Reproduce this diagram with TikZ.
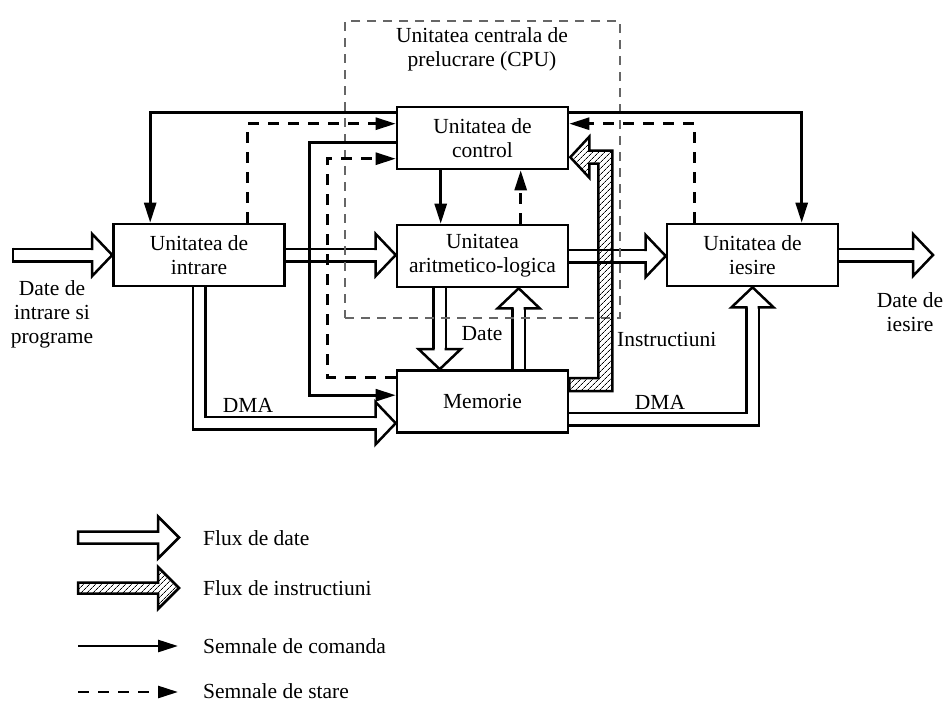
\documentclass[tikz,border=0pt]{standalone}
\usepackage{fontspec}
\setmainfont{Liberation Serif}
\usetikzlibrary{arrows.meta,calc,patterns.meta}
\pgfdeclarelayer{bg}
\pgfsetlayers{bg,main}
\begin{document}
\begin{tikzpicture}[x=1pt,y=-1pt,
  every node/.style={font=\fontsize{21.5}{24}\selectfont},
  unit/.style={draw, line width=2.6pt, minimum width=171pt, minimum height=62pt, inner sep=0pt, align=center},
  lbl/.style={align=center, inner sep=0pt},
  cmd/.style={line width=2.6pt, -{Triangle[length=20pt,width=12pt]}},
  stat/.style={cmd, dash pattern=on 11pt off 9pt},
  shaft/.style={line width=2.5pt, double=white, double distance=10pt, line join=miter, shorten >=20pt},
  hatched/.style={line width=2.5pt, line join=miter, pattern={Lines[angle=45,distance=4pt,line width=0.7pt]}},
  region/.style={draw=black!60, line width=1.2pt, dash pattern=on 9pt off 7pt},
  hollowhead/.pic={
    \fill[white] (0.5,0) -- (-20,21) -- (-20,-21) -- cycle;
    \draw[line width=2.5pt, line join=miter, line cap=rect]
      (-20,6.25) -- (-20,21) -- (0,0) -- (-20,-21) -- (-20,-6.25);
  }
]
\useasboundingbox (0,0) rectangle (946,702);

% functional units
\node[unit] (in)   at (199,255)   {Unitatea de\\intrare};
\node[unit] (ctrl) at (482.5,138) {Unitatea de\\control};
\node[unit] (alu)  at (482.5,256) {Unitatea\\aritmetico-logica};
\node[unit] (out)  at (752.5,255) {Unitatea de\\iesire};
\node[unit] (mem)  at (482.5,401.5) {Memorie};

% CPU title
\node[lbl] (cputitle) at (482,49) {Unitatea centrala de\\prelucrare (CPU)};

% external ends of the data path
\coordinate (srcin) at (13,255);
\coordinate (sinkout) at (933,255);

% labels
\node[lbl] (inlabel)  at (52,314)   {Date de\\intrare si\\programe};
\node[lbl] (outlabel) at (910,312) {Date de\\iesire};
\node[lbl] (datelbl)  at (482,334)  {Date};
\node[lbl, anchor=west] (instrlbl) at (617,339) {Instructiuni};
\node[lbl] (dmain)  at (248,405) {DMA};
\node[lbl] (dmaout) at (660,402) {DMA};

\begin{pgfonlayer}{bg}
  % data flows (hollow arrows)
  \draw[shaft] (srcin) -- (in.west);
  \draw[line width=2.5pt] ($(srcin)+(0,-7.5)$) -- ($(srcin)+(0,7.5)$);
  \draw[shaft] (in.east) -- (in.east -| alu.west);
  \draw[shaft] (alu.east) -- (alu.east -| out.west);
  \draw[shaft] (out.east) -- (sinkout);
  \draw[shaft] ($(alu.south west)+(44,0)$) -- ($(mem.north west)+(44,0)$);
  \draw[shaft] ($(mem.north west)+(123,0)$) -- ($(alu.south west)+(123,0)$);
  \draw[shaft] (in.south) |- ($(mem.north west)+(0,54)$);
  \draw[shaft] ($(mem.north east)+(0,50)$) -| (out.south);

  \pic at (in.west) {hollowhead};
  \pic at (in.east -| alu.west) {hollowhead};
  \pic at (alu.east -| out.west) {hollowhead};
  \pic at (sinkout) {hollowhead};
  \pic[rotate=-90] at ($(mem.north west)+(44,0)$) {hollowhead};
  \pic[rotate=90] at ($(alu.south west)+(123,0)$) {hollowhead};
  \pic at ($(mem.north west)+(0,54)$) {hollowhead};
  \pic[rotate=90] at (out.south) {hollowhead};

  % CPU boundary
  \node[region, minimum width=275pt, minimum height=297pt] (cpu) at (482.5,169.5) {};

  % instruction flow (hatched arrow) from memory to control
  \draw[hatched]
    ($(mem.north east)+(0,22)$) -- ($(mem.north east)+(43,22)$)
    -- ($(ctrl.north east)+(43,45)$) -- ($(ctrl.north east)+(20,45)$)
    -- ($(ctrl.north east)+(20,31)$) -- ($(ctrl.north east)+(1,51.5)$)
    -- ($(ctrl.north east)+(20,72)$) -- ($(ctrl.north east)+(20,58)$)
    -- ($(ctrl.north east)+(29,58)$) -- ($(mem.north east)+(29,9)$)
    -- ($(mem.north east)+(0,9)$) -- cycle;

  % command signals
  \draw[cmd] ($(ctrl.north west)+(0,7)$) -| ($(in.north west)+(38,0)$);
  \draw[cmd] ($(ctrl.north west)+(0,37)$) -- ++(-86,0) |- ($(mem.north west)+(0,26)$);
  \draw[cmd] ($(ctrl.south west)+(45,0)$) -- ($(alu.north west)+(45,0)$);
  \draw[cmd] ($(ctrl.north east)+(0,7)$) -| ($(out.north west)+(136,0)$);

  % status signals
  \draw[stat] ($(in.north west)+(135,0)$) |- ($(ctrl.north west)+(0,18)$);
  \draw[stat] ($(mem.north west)+(0,8)$) -- ++(-68,0) |- ($(ctrl.north west)+(0,53)$);
  \draw[stat] ($(alu.north west)+(125,0)$) -- ($(ctrl.south west)+(125,0)$);
  \draw[stat] ($(out.north west)+(29,0)$) |- ($(ctrl.north east)+(0,18)$);
\end{pgfonlayer}

% legend
\draw[line width=2.5pt, line join=miter, fill=white]
  (78,531.5) -- (158,531.5) -- (158,516.5) -- (179,537.5) -- (158,558.5)
  -- (158,543.5) -- (78,543.5) -- cycle;
\node[lbl, anchor=west] (leg1) at (203,538) {Flux de date};
\draw[hatched]
  (78,582.5) -- (158,582.5) -- (158,567) -- (179,588) -- (158,609)
  -- (158,593.5) -- (78,593.5) -- cycle;
\node[lbl, anchor=west] (leg2) at (203,588) {Flux de instructiuni};
\coordinate (c1) at (78,646);
\coordinate (c2) at (178,646);
\draw[cmd] (c1) -- (c2);
\node[lbl, anchor=west] (leg3) at (203,646) {Semnale de comanda};
\coordinate (s1) at (78,692);
\coordinate (s2) at (178,692);
\draw[stat] (s1) -- (s2);
\node[lbl, anchor=west] (leg4) at (203,691) {Semnale de stare};
\end{tikzpicture}
\end{document}
